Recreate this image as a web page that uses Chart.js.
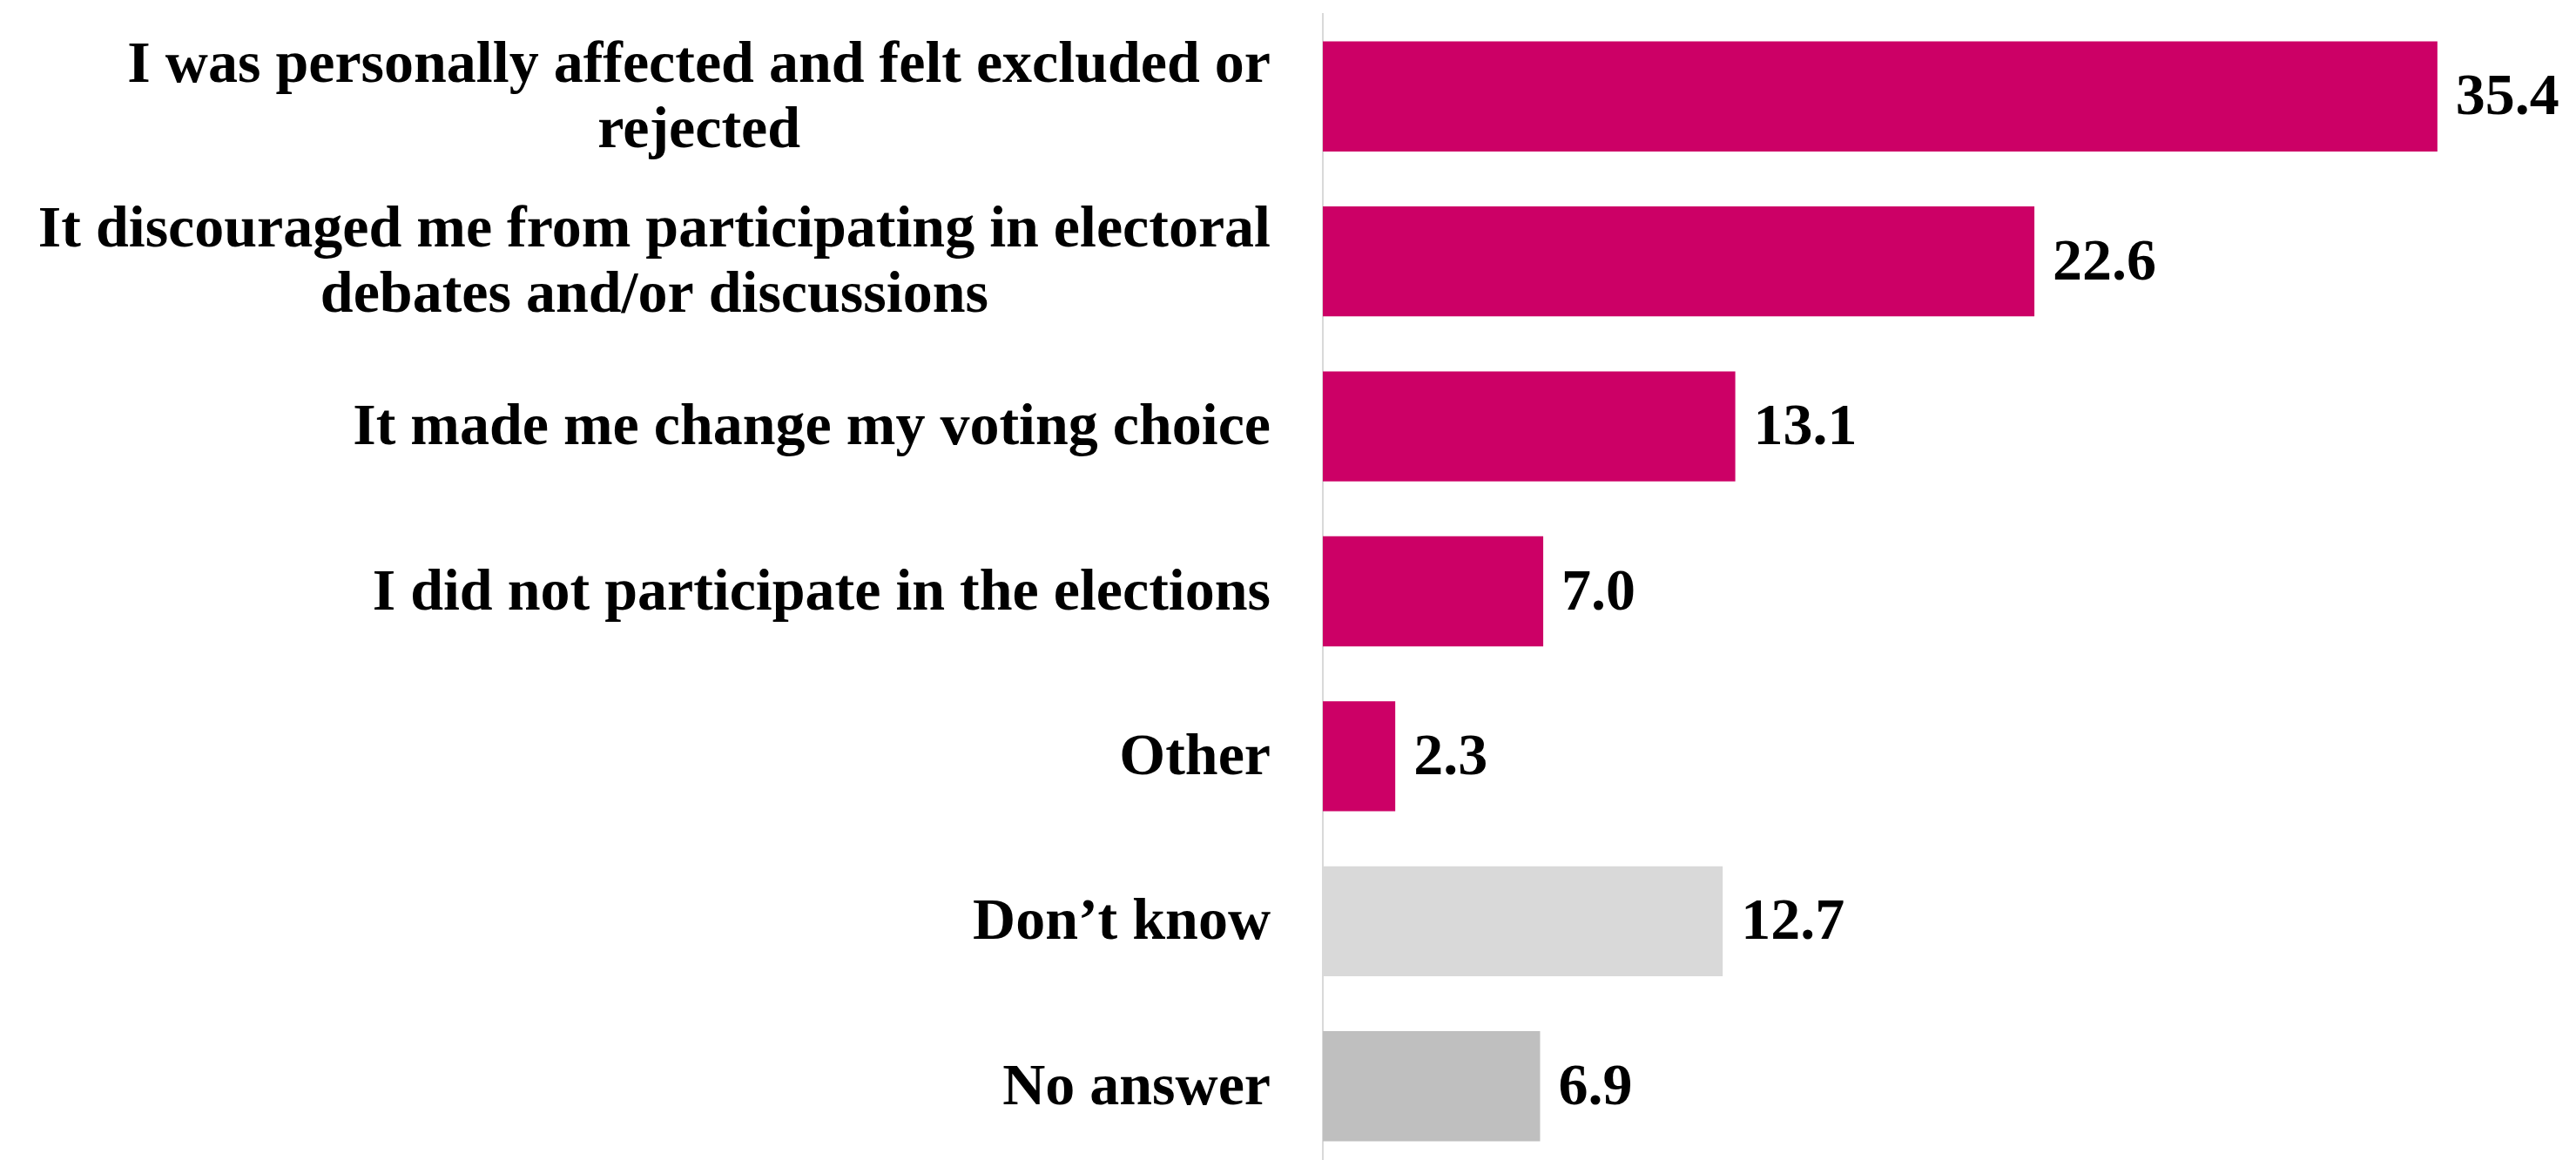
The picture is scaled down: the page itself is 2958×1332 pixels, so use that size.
<!DOCTYPE html>
<html>
<head>
<meta charset="utf-8">
<script src="https://cdn.jsdelivr.net/npm/chart.js@4.4.1/dist/chart.umd.min.js"></script>
<style>
  html, body { margin: 0; padding: 0; background: #fff; overflow: hidden; }
  #wrap { width: 2958px; height: 1342px; }
</style>
</head>
<body>
<div id="wrap"><canvas id="c" width="2958" height="1342"></canvas></div>
<script>
const categories = [
  ["I was personally affected and felt excluded or", "rejected"],
  ["It discouraged me from participating in electoral", "debates and/or discussions"],
  ["It made me change my voting choice"],
  ["I did not participate in the elections"],
  ["Other"],
  ["Don\u2019t know"],
  ["No answer"]
];
const values = [35.4, 22.6, 13.1, 7.0, 2.3, 12.7, 6.9];
const barColors = ["#CC0066", "#CC0066", "#CC0066", "#CC0066", "#CC0066", "#D9D9D9", "#BFBFBF"];

const FONT = 'bold 68px "Liberation Serif", "Times New Roman", serif';

const labelPlugin = {
  id: 'labelPlugin',
  afterDraw(chart) {
    const ctx = chart.ctx;
    const yScale = chart.scales.y;
    const meta = chart.getDatasetMeta(0);
    const axisX = chart.chartArea.left;
    ctx.save();
    ctx.font = FONT;
    ctx.fillStyle = '#000';
    ctx.textBaseline = 'middle';
    // category labels
    categories.forEach((lines, i) => {
      const cy = yScale.getPixelForValue(i);
      const widths = lines.map(l => ctx.measureText(l).width);
      const blockW = Math.max(...widths);
      const right = axisX - 60;
      const cx = right - blockW / 2;
      const lh = 75;
      const startY = cy - (lines.length - 1) * lh / 2;
      ctx.textAlign = 'center';
      lines.forEach((l, k) => ctx.fillText(l, cx, startY + k * lh + 3));
    });
    // value labels
    ctx.textAlign = 'left';
    meta.data.forEach((bar, i) => {
      ctx.fillText(values[i].toFixed(1), bar.x + 21, bar.y + 3);
    });
    ctx.restore();
  }
};

new Chart(document.getElementById('c'), {
  type: 'bar',
  data: {
    labels: categories,
    datasets: [{
      data: values,
      backgroundColor: barColors,
      borderWidth: 0,
      categoryPercentage: 1.0,
      barPercentage: 0.667
    }]
  },
  options: {
    indexAxis: 'y',
    responsive: false,
    animation: false,
    layout: { padding: { top: 16, right: 29, bottom: 0, left: 0 } },
    plugins: { legend: { display: false }, tooltip: { enabled: false } },
    scales: {
      x: { display: false, min: 0, max: 39 },
      y: {
        type: 'category',
        grid: { display: false, drawTicks: false },
        border: { display: true, color: '#D9D9D9', width: 2 },
        ticks: { display: false },
        afterFit(s) { s.width = 1519; }
      }
    }
  },
  plugins: [labelPlugin]
});
</script>
</body>
</html>
